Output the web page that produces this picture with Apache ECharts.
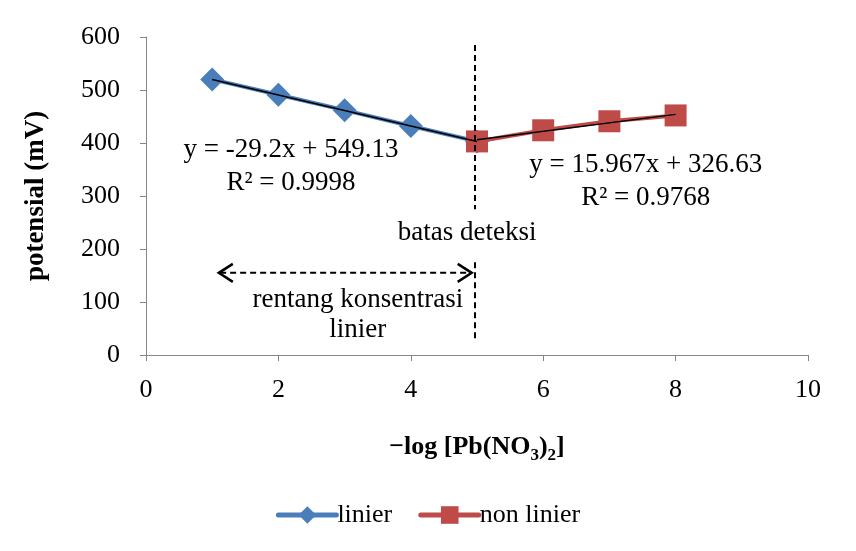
<!DOCTYPE html>
<html>
<head>
<meta charset="utf-8">
<script src="https://cdn.jsdelivr.net/npm/echarts@6/dist/echarts.min.js"></script>
<style>
  html, body { margin: 0; padding: 0; background: #fff; }
  #chart { width: 856px; height: 551px; }
</style>
</head>
<body>
<div id="chart"></div>
<script>
// data
const linierX = [1, 2, 3, 4, 5]
const linierY = [520, 491, 462, 432, 403]
const nonLinierX = [5, 6, 7, 8]
const nonLinierY = [403, 424, 441, 452]
// trendline ends
const linierTrend = [[1, 520], [5, 403]]
const nonLinierTrend = [[5, 406], [8, 454]]
const xTicks = [0, 2, 4, 6, 8, 10]
const yTicks = [0, 100, 200, 300, 400, 500, 600]

const FONT = 'Liberation Serif'
const BLUE = '#4A7EBB'
const RED = '#BE4B48'

const chart = echarts.init(document.getElementById('chart'), null, { renderer: 'canvas' })

const pair = (xs, ys) => xs.map((x, i) => [x, ys[i]])

const option = {
  backgroundColor: '#fff',
  animation: false,
  textStyle: { fontFamily: FONT, color: '#000' },
  grid: { left: 146, right: 48, top: 37, bottom: 196 },
  xAxis: {
    type: 'value',
    min: xTicks[0],
    max: xTicks[xTicks.length - 1],
    interval: 2,
    splitLine: { show: false },
    axisLine: { lineStyle: { color: '#868686', width: 1 } },
    axisTick: { show: true, length: 6, lineStyle: { color: '#868686' } },
    axisLabel: { fontFamily: FONT, fontSize: 26, color: '#000', margin: 22 },
    name: '{a|−log [Pb(NO}{s|3}{a|)}{s|2}{a|]}',
    nameLocation: 'middle',
    nameGap: 76,
    nameTextStyle: {
      rich: {
        a: { fontFamily: FONT, fontSize: 26, fontWeight: 'bold', color: '#000' },
        s: { fontFamily: FONT, fontSize: 17, fontWeight: 'bold', color: '#000', verticalAlign: 'bottom', padding: [16, 0, 0, 0] }
      }
    }
  },
  yAxis: {
    type: 'value',
    min: yTicks[0],
    max: yTicks[yTicks.length - 1],
    interval: 100,
    splitLine: { show: false },
    axisLine: { show: true, lineStyle: { color: '#868686', width: 1 } },
    axisTick: { show: true, length: 6, lineStyle: { color: '#868686' } },
    axisLabel: { fontFamily: FONT, fontSize: 26, color: '#000', margin: 26 },
    name: 'potensial (mV)',
    nameLocation: 'middle',
    nameGap: 96,
    nameTextStyle: { fontFamily: FONT, fontSize: 27, fontWeight: 'bold', color: '#000' }
  },
  legend: {
    bottom: 18,
    left: 'center',
    itemWidth: 58,
    itemHeight: 22,
    itemGap: 26,
    lineStyle: { width: 5, cap: 'round' },
    textStyle: { fontFamily: FONT, fontSize: 26, color: '#000', padding: [0, 0, 0, -4] },
    data: ['linier', 'non linier']
  },
  series: [
    {
      name: 'linier',
      type: 'line',
      data: pair(linierX, linierY),
      symbol: 'diamond',
      symbolSize: 24,
      itemStyle: { color: BLUE },
      lineStyle: { color: BLUE, width: 4 },
      z: 2
    },
    {
      name: 'non linier',
      type: 'line',
      data: pair(nonLinierX, nonLinierY),
      symbol: 'rect',
      symbolSize: 22,
      itemStyle: { color: RED },
      lineStyle: { color: RED, width: 4 },
      z: 2
    },
    {
      name: 'trend linier',
      type: 'line',
      data: linierTrend,
      symbol: 'none',
      lineStyle: { color: '#000', width: 1.5 },
      silent: true,
      z: 5
    },
    {
      name: 'trend non linier',
      type: 'line',
      data: nonLinierTrend,
      symbol: 'none',
      lineStyle: { color: '#000', width: 1.5 },
      silent: true,
      z: 5
    }
  ]
}

chart.setOption(option)

// annotations placed in data coordinates
const px = (x, y) => chart.convertToPixel({ gridIndex: 0 }, [x, y])
const txt = (x, y, text, extra) => {
  const p = px(x, y)
  return {
    type: 'text',
    x: p[0],
    y: p[1],
    z: 10,
    style: Object.assign({
      text: text,
      font: '27px "' + FONT + '"',
      fill: '#000',
      align: 'center',
      verticalAlign: 'middle'
    }, extra || {})
  }
}
const dashLine = (a, b) => {
  const p1 = px(a[0], a[1]), p2 = px(b[0], b[1])
  return {
    type: 'line',
    z: 10,
    shape: { x1: p1[0], y1: p1[1], x2: p2[0], y2: p2[1] },
    style: { stroke: '#000', lineWidth: 2, lineDash: [6, 4] }
  }
}
const chevron = (x, y, dir) => {
  const p = px(x, y)
  return {
    type: 'polyline',
    z: 10,
    shape: { points: [[p[0] - dir * 14, p[1] - 9], [p[0], p[1]], [p[0] - dir * 14, p[1] + 9]] },
    style: { stroke: '#000', lineWidth: 2.5, fill: null }
  }
}

chart.setOption({
  graphic: [
    // detection limit
    dashLine([4.97, 585], [4.97, 275]),
    dashLine([4.97, 175], [4.97, 28]),
    txt(4.85, 230, 'batas deteksi'),
    // linear range arrow
    dashLine([1.12, 155], [4.9, 155]),
    chevron(1.1, 155, -1),
    chevron(4.92, 155, 1),
    txt(3.2, 104, 'rentang konsentrasi'),
    txt(3.2, 47, 'linier'),
    // fit equations
    txt(2.19, 387, 'y = -29.2x + 549.13'),
    txt(2.19, 325, 'R² = 0.9998'),
    txt(7.55, 358, 'y = 15.967x + 326.63'),
    txt(7.55, 296, 'R² = 0.9768')
  ]
})
</script>
</body>
</html>
